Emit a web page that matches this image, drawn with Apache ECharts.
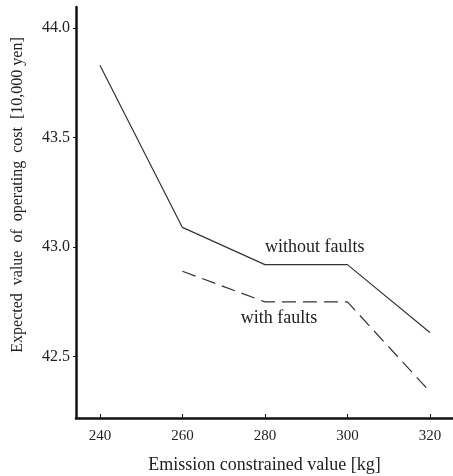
<!DOCTYPE html>
<html><head><meta charset="utf-8">
<script src="https://cdn.jsdelivr.net/npm/echarts@6/dist/echarts.min.js"></script>
<style>html,body{margin:0;padding:0;background:#fff}#c{width:453px;height:476px}</style>
</head><body><div id="c"></div>
<script>
const emission = [240, 260, 280, 300, 320];
const withoutFaults = [43.83, 43.09, 42.92, 42.92, 42.61];
const withFaults = [null, 42.89, 42.75, 42.75, 42.34];
const xTicks = [240, 260, 280, 300, 320];
const yTicks = [42.5, 43.0, 43.5, 44.0];
const xTitle = 'Emission constrained value [kg]';
const yTitle = 'Expected  value  of  operating  cost  [10,000 yen]';

const font = '"Liberation Serif", "DejaVu Serif", serif';
const chart = echarts.init(document.getElementById('c'));
const pairs = (ys) => emission.map((x, i) => [x, ys[i]]).filter(p => p[1] !== null);

chart.setOption({
  animation: false,
  backgroundColor: '#ffffff',
  grid: { left: 76, right: 0, top: 7, bottom: 58, outerBoundsMode: 'none', containLabel: false },
  xAxis: {
    type: 'value', min: 234.2, max: 325.6,
    name: xTitle, nameLocation: 'middle', nameGap: 38,
    nameTextStyle: { fontFamily: font, fontSize: 18, color: '#222' },
    axisLine: { lineStyle: { color: '#111', width: 2.5 } },
    axisTick: { inside: true, length: 4, customValues: xTicks, lineStyle: { color: '#111', width: 1 } },
    axisLabel: { customValues: xTicks, fontFamily: font, fontSize: 15, color: '#222', margin: 11 },
    splitLine: { show: false }
  },
  yAxis: {
    type: 'value', min: 42.22, max: 44.096,
    axisLine: { show: true, lineStyle: { color: '#111', width: 2.5 } },
    axisTick: { show: true, length: 3, customValues: yTicks, lineStyle: { color: '#111', width: 1 } },
    axisLabel: { customValues: yTicks, fontFamily: font, fontSize: 16, color: '#222', margin: 6,
      formatter: v => v.toFixed(1) },
    splitLine: { show: false }
  },
  graphic: [{
    type: 'text', x: 18, y: 195, rotation: Math.PI / 2,
    style: { text: yTitle, fontFamily: font, fontSize: 16, fill: '#222', align: 'center', verticalAlign: 'middle' }
  }],
  series: [
    {
      type: 'line', data: pairs(withoutFaults), symbol: 'none',
      lineStyle: { color: '#333', width: 1.2 },
      markPoint: {
        symbolSize: 0,
        data: [{ coord: [292.1, 43.0], label: { show: true, formatter: 'without faults',
          fontFamily: font, fontSize: 18, color: '#222', position: 'inside' } }]
      }
    },
    {
      type: 'line', data: pairs(withFaults), symbol: 'none',
      lineStyle: { color: '#333', width: 1.2, type: [14, 7] },
      markPoint: {
        symbolSize: 0,
        data: [{ coord: [283.4, 42.676], label: { show: true, formatter: 'with faults',
          fontFamily: font, fontSize: 18, color: '#222', position: 'inside' } }]
      }
    }
  ]
});
</script></body></html>
